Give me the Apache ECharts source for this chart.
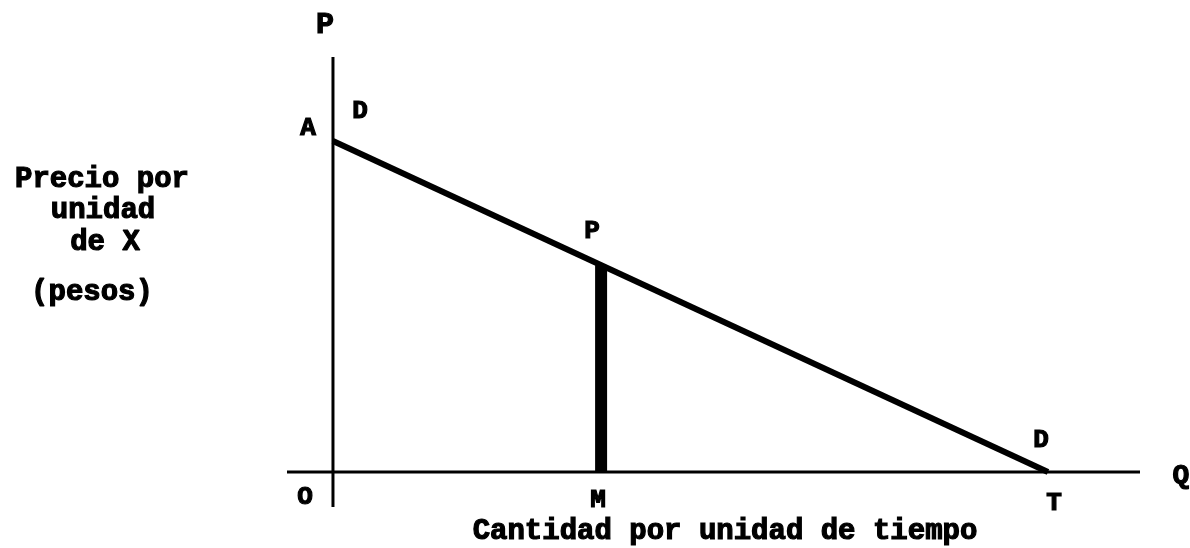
<!DOCTYPE html>
<html>
<head>
<meta charset="utf-8">
<script src="https://cdn.jsdelivr.net/npm/echarts@6/dist/echarts.min.js"></script>
<style>
    html, body {margin: 0; padding: 0; background: #fff;}
    #chart {width: 1190px; height: 548px;}
</style>
</head>
<body>
<div id="chart"></div>
<script>
// demand line D-D, from A on the price axis to T on the quantity axis
const demandQ = [0, 100];
const demandP = [100, 0];
// point P on the demand line, with M below it
const pointQ = 37.5;
const pointP = 62.5;
// axis extents (quantity axis runs a bit left of O, price axis a bit below O)
const quantityAxis = [-6.43, 112.87];
const priceAxis = [-10.6, 125.4];

const font = "Liberation Mono";
const chart = echarts.init(document.getElementById("chart"));

// typewriter-like heavy lettering
function label(text, x, y, size) {
    return {
        type: "text",
        x: x,
        y: y,
        style: {
            text: text,
            fill: "#000",
            stroke: "#000",
            lineWidth: 1.2,
            font: `bold ${size || 28}px "${font}"`,
            textAlign: "center",
            textVerticalAlign: "middle"
        }
    };
}

function segment(points, width) {
    return {
        type: "line",
        data: points,
        symbol: "none",
        silent: true,
        lineStyle: {color: "#000", width: width, cap: "butt"}
    };
}

chart.setOption({
    animation: false,
    backgroundColor: "#fff",
    grid: {left: 287, right: 50, top: 57, bottom: 41},
    xAxis: {type: "value", min: quantityAxis[0], max: quantityAxis[1], show: false},
    yAxis: {type: "value", min: priceAxis[0], max: priceAxis[1], show: false},
    series: [
        segment([[quantityAxis[0], 0], [quantityAxis[1], 0]], 3),
        segment([[0, priceAxis[0]], [0, priceAxis[1]]], 3),
        segment(demandQ.map((q, i) => [q, demandP[i]]), 6),
        segment([[pointQ, 0], [pointQ, pointP]], 12)
    ],
    graphic: [
        label("P", 325, 25, 30),
        label("A", 308, 128, 26),
        label("D", 360, 111, 26),
        label("Precio por", 102, 180, 29),
        label("unidad", 103, 211, 29),
        label("de X", 105, 243, 29),
        label("(pesos)", 92, 293, 29),
        label("P", 592, 231, 26),
        label("D", 1041, 440, 26),
        label("Q", 1181, 476, 28),
        label("O", 305, 497, 26),
        label("M", 598, 500, 26),
        label("T", 1054, 503, 26),
        label("Cantidad por unidad de tiempo", 725, 532, 29)
    ]
});
</script>
</body>
</html>
